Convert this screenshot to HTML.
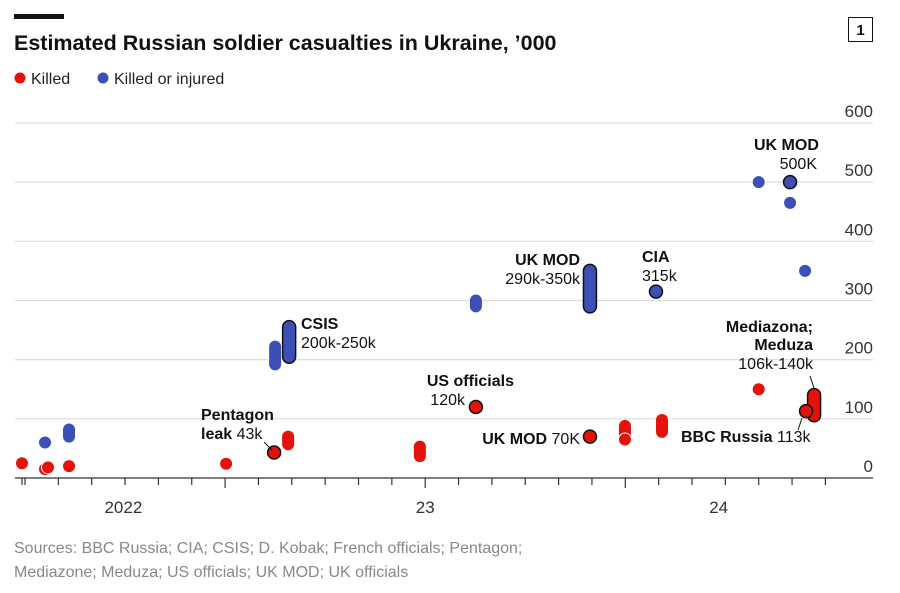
<!DOCTYPE html>
<html><head><meta charset="utf-8"><style>
html,body{margin:0;padding:0;background:#fff;}
svg{display:block;font-family:"Liberation Sans",sans-serif;}
</style></head><body>
<svg id="chart" width="900" height="593" viewBox="0 0 900 593">
<rect x="14" y="14" width="50" height="5" fill="#111"/>
<text x="14" y="50" font-size="21.5" font-weight="bold" fill="#111">Estimated Russian soldier casualties in Ukraine, ’000</text>
<rect x="848.5" y="17.5" width="24" height="24" fill="none" stroke="#111" stroke-width="1"/>
<text x="860.5" y="35" font-size="15" font-weight="bold" text-anchor="middle" fill="#111">1</text>
<g>
<circle cx="20" cy="78" r="5.5" fill="#e3120b"/>
<text x="31" y="84" font-size="16" fill="#222">Killed</text>
<circle cx="103" cy="78" r="5.5" fill="#3c4fb4"/>
<text x="114" y="84" font-size="16" fill="#222">Killed or injured</text>
</g>
<g id="grid"></g>
<g id="xaxis"></g>
<g id="marks"></g>
<g id="labels" font-size="16" fill="#111"></g>
<text x="14" y="553" font-size="16" fill="#888">Sources: BBC Russia; CIA; CSIS; D. Kobak; French officials; Pentagon;</text>
<text x="14" y="577" font-size="16" fill="#888">Mediazone; Meduza; US officials; UK MOD; UK officials</text>
</svg>
<script>
// data (x in time-tick units from first tick; y in thousands)
const yTicks=[0,100,200,300,400,500,600];
const yearLabels=["2022","23","24"];
const yearPos=[2.95,12.0,20.8];
const redX=[-0.09,0.6,0.69,1.32,6.03,7.47,7.89,11.84,13.52,16.94,17.99,17.99,19.1,22.0,23.66,23.42];
const redLo=[25,15,18,20,24,43,57,37,120,70,72,65,78,150,106,113];
const redHi=[25,15,18,20,24,43,70,53,120,70,88,65,98,150,140,113];
const redOutline=[0,0,1,0,0,1,0,0,1,1,0,0,0,0,1,1];
const blueX=[0.6,1.32,7.5,7.92,13.52,16.94,18.92,22.0,22.94,22.94,23.39];
const blueLo=[60,70,192,205,290,290,315,500,500,465,350];
const blueHi=[60,82,222,255,300,350,315,500,500,465,350];
const blueOutline=[0,0,0,1,0,1,1,0,1,0,0];

const NS="http://www.w3.org/2000/svg";
const xS=d=>25+d*33.35;
const yS=v=>478-v*0.5917;
function mk(tag,attrs,parent){const e=document.createElementNS(NS,tag);for(const k in attrs)e.setAttribute(k,attrs[k]);parent.appendChild(e);return e;}
const grid=document.getElementById('grid');
yTicks.forEach(v=>{
  if(v>0){const l=mk('line',{x1:15,x2:873,y1:yS(v),y2:yS(v),stroke:'#dddddd','stroke-width':1.2},grid);
  
  }
  const t=mk('text',{x:873,y:yS(v)-6,'text-anchor':'end','font-size':17,fill:'#333'},grid);
  t.textContent=v;
  
  
});
const xa=document.getElementById('xaxis');
const ax=mk('line',{x1:15,x2:873,y1:478,y2:478,stroke:'#333','stroke-width':1.3},xa);


for(let i=0;i<=24;i++){
  const big=(i==6||i==12||i==18);
  const tk=mk('line',{x1:xS(i),x2:xS(i),y1:478,y2:big?488:485,stroke:'#333','stroke-width':1.2},xa);
  
  
}
mk('line',{x1:22,x2:22,y1:478,y2:485,stroke:'#333','stroke-width':1.2},xa);
yearLabels.forEach((s,i)=>{
  const t=mk('text',{x:xS(yearPos[i]),y:513,'text-anchor':'middle','font-size':17,fill:'#333'},xa);
  t.textContent=s;
  
  
});
const marks=document.getElementById('marks');
function pill(x,lo,hi,col,out,name){
  const cx=xS(x),y1=yS(hi),y2=yS(lo),w=13;
  const r=mk('rect',{x:cx-w/2,y:y1-w/2,width:w,height:(y2-y1)+w,rx:w/2,ry:w/2,fill:col,stroke:out?'#111':'#fff','stroke-width':out?1.5:1},marks);
  
  
}
blueX.forEach((x,i)=>pill(x,blueLo[i],blueHi[i],'#3c4fb4',blueOutline[i],'killed-or-injured-estimate'));
redX.forEach((x,i)=>pill(x,redLo[i],redHi[i],'#e3120b',redOutline[i]&&i!=2,'killed-estimate'));
const L=document.getElementById('labels');
function lab(x,y,b,r,anchor,name){
  const t=mk('text',{x:x,y:y,'text-anchor':anchor||'start'},L);
  if(b){const s=mk('tspan',{'font-weight':'bold'},t);s.textContent=b;}
  if(r){const s=mk('tspan',{},t);s.textContent=(b?' ':'')+r;}
  
  
}
lab(201,420,'Pentagon','', 'start','label-pentagon');
lab(201,439,'leak','43k','start','label-pentagon-value');
mk('line',{x1:264,y1:442,x2:272,y2:450,stroke:'#111'},L);
lab(301,329,'CSIS','','start','label-csis');
lab(301,348,'','200k-250k','start','label-csis-value');
lab(514,386,'US officials','','end','label-us-officials');
lab(465,405,'','120k','end','label-us-value');
lab(580,265,'UK MOD','','end','label-ukmod-2023');
lab(580,284,'','290k-350k','end','label-ukmod-2023-value');
lab(642,262,'CIA','','start','label-cia');
lab(642,281,'','315k','start','label-cia-value');
lab(580,444,'UK MOD','70K','end','label-ukmod-70k');
lab(681,442,'BBC Russia','113k','start','label-bbc-russia');
mk('line',{x1:802,y1:418,x2:798,y2:430,stroke:'#111'},L);
lab(754,150,'UK MOD','','start','label-ukmod-2024');
lab(817,169,'','500K','end','label-ukmod-500k');
lab(813,332,'Mediazona;','','end','label-mediazona');
lab(813,350,'Meduza','','end','label-meduza');
lab(813,369,'','106k-140k','end','label-mediazona-value');
mk('line',{x1:810,y1:376,x2:814,y2:388,stroke:'#111'},L);
</script>
</body></html>
